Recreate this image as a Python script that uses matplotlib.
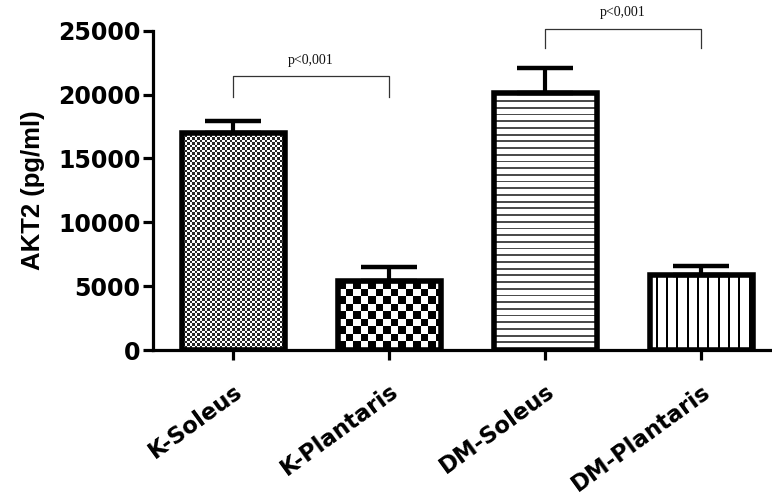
import numpy as np
import matplotlib
matplotlib.use("Agg")
import matplotlib.pyplot as plt
from matplotlib.transforms import ScaledTranslation

# ---- data ----
categories = ["K-Soleus", "K-Plantaris", "DM-Soleus", "DM-Plantaris"]
means = [17000, 5400, 20100, 5900]
sems = [900, 1100, 1950, 700]
patterns = ["fine_checker", "coarse_checker", "hstripes", "vstripes"]
yticks = [0, 5000, 10000, 15000, 20000, 25000]
ylabel = "AKT2 (pg/ml)"
# significance brackets: (left idx, right idx, bottom y, top y, text y, text)
brackets = [(0, 1, 19830, 21470, 22650, "p<0,001"),
            (2, 3, 23670, 25160, 26450, "p<0,001")]

W, H = 772, 495
fig = plt.figure(figsize=(W / 100, H / 100), dpi=100)
ax = fig.add_axes([153 / W, 1 - 350 / H, 1 - 153 / W, (350 - 30.7) / H])

x = np.arange(len(categories))
bw = 0.66
bars = ax.bar(x, means, width=bw, facecolor="none", edgecolor="black",
              linewidth=4.0, zorder=3)
ax.errorbar(x, means, yerr=[np.zeros(len(sems)), sems], fmt="none",
            ecolor="black", elinewidth=3.0, capsize=20.5, capthick=3.2,
            zorder=2)

xlim = (-0.513, 3.455)
ylim = (0, 25000)
ax.set_xlim(*xlim)
ax.set_ylim(*ylim)


def texture(kind, wpx, hpx):
    img = np.ones((hpx, wpx, 3))
    yy, xx = np.mgrid[0:hpx, 0:wpx]
    if kind == "fine_checker":
        c = 2.5
        m = ((np.floor(xx / c) + np.floor(yy / c)) % 2) == 0
        img[m] = 0.15
    elif kind == "coarse_checker":
        c = 7.5
        m = ((np.floor(xx / c) + np.floor(yy / c)) % 2) == 0
        img[m] = 0.0
    elif kind == "hstripes":
        p = 6.7
        m = (yy % p) < 1.8
        img[m] = 0.3
    elif kind == "vstripes":
        p = 10.3
        m = ((xx + 5) % p) < 2.0
        img[m] = 0.0
    return img


for bar, kind in zip(bars, patterns):
    x0, y0 = bar.get_x(), bar.get_y()
    bwid, bh = bar.get_width(), bar.get_height()
    p0 = ax.transData.transform((x0, y0))
    p1 = ax.transData.transform((x0 + bwid, y0 + bh))
    wpx = max(1, int(round(p1[0] - p0[0])))
    hpx = max(1, int(round(p1[1] - p0[1])))
    im = ax.imshow(texture(kind, wpx, hpx), extent=(x0, x0 + bwid, y0, y0 + bh),
                   origin="upper", interpolation="nearest", aspect="auto",
                   zorder=1)
    im.set_clip_path(bar)

ax.set_xlim(*xlim)
ax.set_ylim(*ylim)

# brackets
for i0, i1, yb, yt, ytxt, txt in brackets:
    ax.plot([x[i0], x[i0], x[i1], x[i1]], [yb, yt, yt, yb], color="#333333",
            linewidth=0.9, clip_on=False, zorder=4)
    ax.text((x[i0] + x[i1]) / 2, ytxt, txt, ha="center", va="center",
            fontsize=10, family="Liberation Serif", color="#111111",
            clip_on=False)

# axes styling
for s in ["top", "right"]:
    ax.spines[s].set_visible(False)
for s in ["left", "bottom"]:
    ax.spines[s].set_linewidth(2.3)
ax.set_yticks(yticks)
ax.set_yticklabels([str(v) for v in yticks], fontsize=17,
                   fontweight="bold", family="DejaVu Sans")
ax.set_xticks(x)
ax.set_xticklabels(categories, rotation=36, ha="right", va="top",
                   rotation_mode="anchor", fontsize=16.4, fontweight="bold",
                   family="DejaVu Sans")
shift = ScaledTranslation(-6 / 100, 0, fig.dpi_scale_trans)
for lbl in ax.get_xticklabels():
    lbl.set_transform(lbl.get_transform() + shift)
ax.tick_params(axis="y", length=7, width=2.3, pad=2)
ax.tick_params(axis="x", length=7, width=2.3, pad=14.4)
ax.set_ylabel(ylabel, fontsize=18.5, fontweight="bold",
              family="Liberation Sans")
ax.yaxis.set_label_coords((45 - 153) / (W - 153), 0.5)

fig.savefig("out.png", dpi=100)
